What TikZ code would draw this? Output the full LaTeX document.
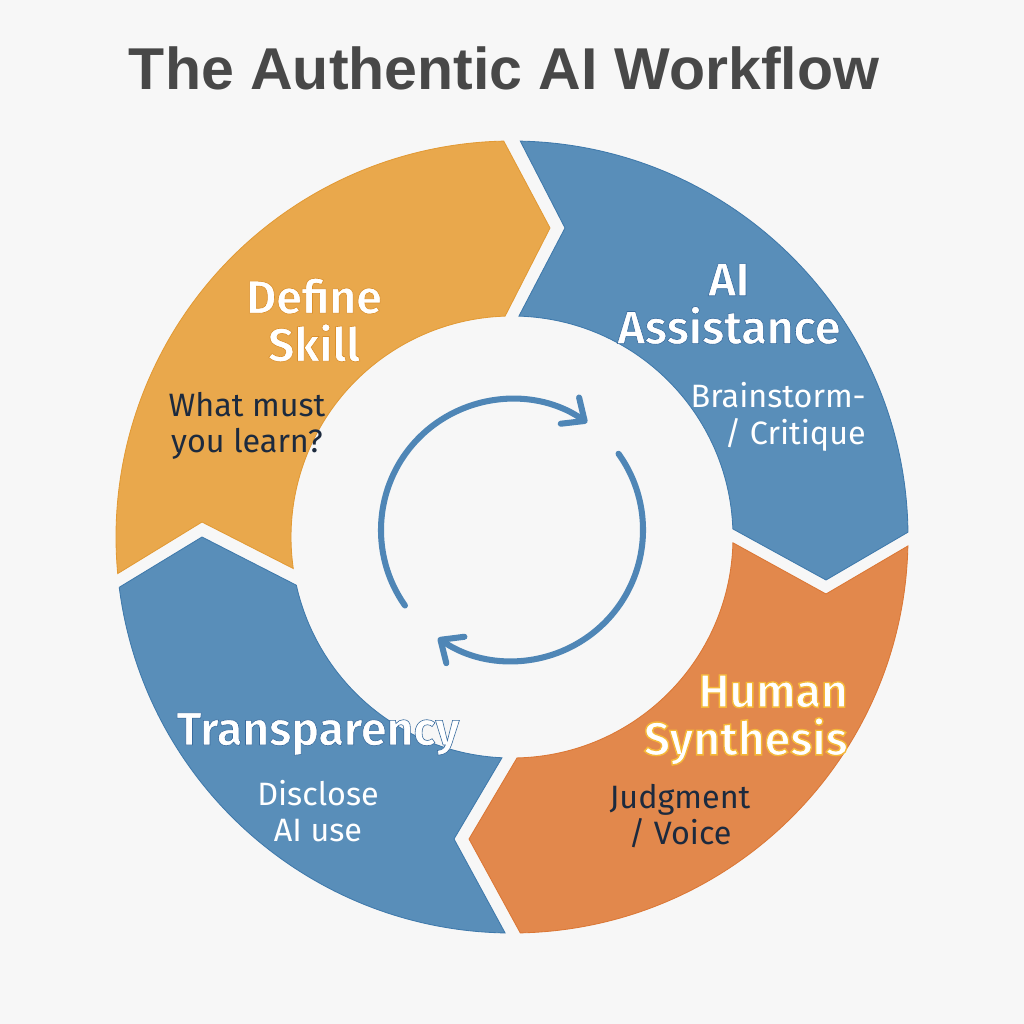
\documentclass[tikz,border=0pt]{standalone}
\usepackage{fontspec}
\setmainfont{Fira Sans}
\newfontfamily\headthin{Fira Sans SemiBold}[FakeBold=1.3]
\newfontfamily\headglow{Fira Sans SemiBold}[FakeBold=3.0]
\newfontfamily\titlefont{Liberation Sans}
\usetikzlibrary{arrows.meta,calc}
\definecolor{bg}{HTML}{F7F7F7}
\definecolor{segA}{HTML}{E9A84C}
\definecolor{segAedge}{HTML}{E29A35}
\definecolor{segB}{HTML}{598EB9}
\definecolor{segBedge}{HTML}{3F79AB}
\definecolor{segC}{HTML}{E2884C}
\definecolor{segCedge}{HTML}{DB7735}
\definecolor{titlegray}{HTML}{484848}
\definecolor{navy}{HTML}{1C2A3E}
\definecolor{cycblue}{HTML}{4F86B6}
\newcommand{\strokergb}[1]{\special{pdf:literal direct #1 RG}}
\tikzset{
  segAstyle/.style={fill=segA,draw=segAedge,line width=0.6pt,line join=miter},
  segBstyle/.style={fill=segB,draw=segBedge,line width=0.6pt,line join=miter},
  segCstyle/.style={fill=segC,draw=segCedge,line width=0.6pt,line join=miter},
  head/.style={font=\headthin\fontsize{33}{34}\selectfont,text=white,align=center,inner sep=0pt},
  head right/.style={head,align=right,anchor=east},
  sub/.style={font=\fontsize{23}{26}\selectfont,align=center,inner sep=0pt},
  sub right/.style={sub,align=right,anchor=east},
  cyc/.style={draw=cycblue,line width=4.3pt,line cap=round,
    -{Straight Barb[length=4.5mm,width=8mm,line cap=round,line join=round]}},
}
\begin{document}
\begin{tikzpicture}[x=0.25mm,y=-0.25mm]
\fill[bg] (0,0) rectangle (1024,1024);
\useasboundingbox (0,0) rectangle (1024,1024);
\coordinate (C) at (512,537);
\coordinate (Cc) at (512,530);
% Define Skill segment
\path[segAstyle] ($(C)+(174.7:396)$) arc[start angle=174.7,end angle=268.8,radius=396]
  -- (550,228) -- ($(C)+(268.2:221)$) arc[start angle=268.2,end angle=171.8,radius=221]
  -- (202,522) -- cycle;
% AI Assistance segment
\path[segBstyle] ($(C)+(271.2:396)$) arc[start angle=271.2,end angle=359.3,radius=396]
  -- (826,580) -- ($(C)+(357.9:221)$) arc[start angle=357.9,end angle=271.8,radius=221]
  -- (565,228) -- cycle;
% Human Synthesis segment
\path[segCstyle] ($(C)+(1.3:396)$) arc[start angle=1.3,end angle=88.8,radius=396]
  -- (469,839) -- ($(C)+(88.7:221)$) arc[start angle=88.7,end angle=1.5,radius=221]
  -- (826,594) -- cycle;
% Transparency segment
\path[segBstyle] ($(C)+(91.0:396)$) arc[start angle=91.0,end angle=172.7,radius=396]
  -- (202,537) -- ($(C)+(167.4:221)$) arc[start angle=167.4,end angle=92.6,radius=221]
  -- (454,839) -- cycle;
% central cycle arrows
\draw[cyc] ($(Cc)+(144.8:131)$) arc[start angle=144.8,end angle=305,radius=131];
\draw[cyc] ($(Cc)+(-35.6:131)$) arc[start angle=-35.6,end angle=124.4,radius=131];
% title
\node[font=\titlefont\bfseries\fontsize{42}{48}\selectfont,text=titlegray,anchor=base,inner sep=0pt] (title) at (504,90) {The Authentic AI Workflow};
% labels
\node[head] (defineskill) at (314,320) {\strokergb{0.86 0.56 0.16}Define\\\strokergb{0.86 0.56 0.16}Skill};
\node[sub,text=navy] (whatmust) at (247,426) {What must\\you learn?};
\node[head] (aiassist) at (729,304) {\strokergb{0.22 0.42 0.62}AI\\\strokergb{0.22 0.42 0.62}Assistance};
\node[sub right,text=white] (brainstorm) at (866,417) {Brainstorm-\\/ Critique};
\node[head right,font=\headglow\fontsize{33}{34}\selectfont] (human) at (848,720) {\strokergb{0.96 0.72 0.22}Human\\\strokergb{0.96 0.72 0.22}Synthesis};
\node[sub,text=navy] (judgment) at (680,816) {Judgment\\/ Voice};
\node[head,anchor=base] (transparency) at (318,745) {\strokergb{0.22 0.42 0.62}Transparency};
\node[sub,text=white] (disclose) at (318,811) {Disclose\\AI use};
\end{tikzpicture}
\end{document}
